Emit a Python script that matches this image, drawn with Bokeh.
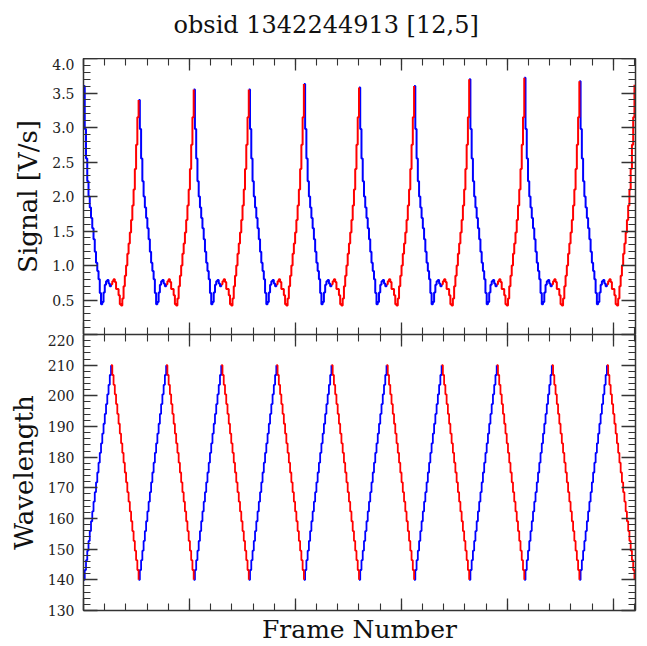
from bokeh.plotting import figure
from bokeh.layouts import column
from bokeh.models import (LinearAxis, SingleIntervalTicker, Range1d,
                          PrintfTickFormatter)
from bokeh.embed import file_html
from bokeh.resources import INLINE

title_text = "obsid 1342244913 [12,5]"
x_label = "Frame Number"
sig_label = "Signal [V/s]"
wl_label = "Wavelength"

half_scan_frames = 130
n_cycles = 10

# wavelength step levels of one up-scan (blue) and one down-scan (red)
wl_up = [140.0, 143.2, 146.4, 149.5, 152.7, 155.9, 159.1, 162.3, 165.5, 168.6, 171.8,
         175.0, 178.2, 181.4, 184.5, 187.7, 190.9, 194.1, 197.3, 200.5, 203.6, 206.8]
wl_down = [210.0, 206.8, 203.6, 200.5, 197.3, 194.1, 190.9, 187.7, 184.5, 181.4, 178.2,
           175.0, 171.8, 168.6, 165.5, 162.3, 159.1, 155.9, 152.7, 149.5, 146.4, 143.2]

# signal read at each step (first up-step is that scan's peak, listed below)
sig_up = [3.45, 2.98, 2.55, 2.22, 2.00, 1.84, 1.69, 1.54, 1.38, 1.20, 1.04,
          0.92, 0.80, 0.60, 0.44, 0.47, 0.61, 0.72, 0.77, 0.79, 0.74, 0.70]
sig_down = [0.73, 0.77, 0.80, 0.76, 0.66, 0.66, 0.57, 0.44, 0.42, 0.52, 0.70,
            0.85, 1.00, 1.17, 1.32, 1.48, 1.66, 1.87, 2.10, 2.40, 2.75, 3.15]
peak_signal = [3.60, 3.40, 3.55, 3.55, 3.63, 3.58, 3.60, 3.70, 3.72, 3.67, 3.62]

x_end = 2605
x_tick = 500
sig_range = (0.0, 4.0)
sig_tick = 0.5
wl_range = (130.0, 220.0)
wl_tick = 10

BLUE = "#0000ff"
RED = "#ff0000"
FONT = "DejaVu Serif"
AX = "#333333"


def step_paths(up, down, peaks, end_low):
    bx, by, rx, ry = [], [], [], []
    n = len(up)
    w = half_scan_frames / n
    for c in range(n_cycles):
        f0 = c * 2 * half_scan_frames
        vals = list(up)
        if peaks is not None:
            vals[0] = peaks[c]
        xs, ys = [], []
        for i, v in enumerate(vals):
            xs += [f0 + i * w, f0 + (i + 1) * w]
            ys += [v, v]
        xs.append(f0 + half_scan_frames)
        ys.append(down[0])
        bx.append(xs); by.append(ys)
        f1 = f0 + half_scan_frames
        xs, ys = [], []
        for i, v in enumerate(down):
            xs += [f1 + i * w, f1 + (i + 1) * w]
            ys += [v, v]
        xs.append(f1 + half_scan_frames)
        ys.append(peaks[c + 1] if peaks is not None else end_low)
        rx.append(xs); ry.append(ys)
    return bx, by, rx, ry


def style_axis(ax, ticker, major, minor, labels):
    ax.ticker = ticker
    ax.major_tick_in = major
    ax.major_tick_out = 0
    ax.minor_tick_in = minor
    ax.minor_tick_out = 0
    ax.axis_line_color = AX
    ax.axis_line_width = 1.5
    ax.major_tick_line_color = AX
    ax.major_tick_line_width = 1.3
    ax.minor_tick_line_color = AX
    ax.minor_tick_line_width = 1.1
    ax.major_label_text_font = FONT
    if labels:
        ax.major_label_text_color = "#222222"
        ax.major_label_text_font_size = "14px"
        ax.major_label_standoff = 9
    else:
        ax.major_label_text_color = None
        ax.major_label_text_font_size = "0px"
        ax.major_label_standoff = 0
        ax.axis_label_standoff = 0


def frame_axes(p, yticker_args, yformat):
    bottom = p.below[0]
    left = p.left[0]
    style_axis(bottom, SingleIntervalTicker(interval=x_tick, num_minor_ticks=5), 12, 7, False)
    style_axis(left, SingleIntervalTicker(**yticker_args), 14, 7, True)
    left.formatter = PrintfTickFormatter(format=yformat)
    top = LinearAxis()
    style_axis(top, SingleIntervalTicker(interval=x_tick, num_minor_ticks=5), 12, 7, False)
    p.add_layout(top, "above")
    right = LinearAxis()
    style_axis(right, SingleIntervalTicker(**yticker_args), 14, 7, False)
    p.add_layout(right, "right")
    left.axis_label_text_font = FONT
    left.axis_label_text_font_size = "26px"
    left.axis_label_text_font_style = "normal"
    left.axis_label_text_color = "#111111"
    left.axis_label_standoff = 6
    return bottom, left


# title strip
pt = figure(width=647, height=58, x_axis_type=None, y_axis_type=None,
            output_backend="svg", toolbar_location=None, min_border=0,
            title=title_text)
pt.title.text_font = FONT
pt.title.text_font_size = "24px"
pt.title.text_font_style = "normal"
pt.title.text_color = "#111111"
pt.title.align = "left"
pt.title.offset = 90
pt.title.vertical_align = "top"
pt.title.standoff = 20
pt.outline_line_color = None
pt.grid.visible = False

xr = Range1d(0, x_end)

p1 = figure(width=647, height=276, x_range=xr, y_range=Range1d(*sig_range),
            output_backend="svg", toolbar_location=None,
            min_border_left=83, min_border_right=12, min_border_top=0,
            min_border_bottom=0)
p1.outline_line_color = None
p1.grid.visible = False
b1, l1 = frame_axes(p1, dict(interval=sig_tick, num_minor_ticks=5), "%.1f")
l1.axis_label = sig_label
l1.major_label_overrides = {0: ""}

bx, by, rx, ry = step_paths(sig_up, sig_down, peak_signal, None)
p1.multi_line(bx, by, line_color=BLUE, line_width=2)
p1.multi_line(rx, ry, line_color=RED, line_width=2)

p2 = figure(width=647, height=312, x_range=xr, y_range=Range1d(*wl_range),
            output_backend="svg", toolbar_location=None,
            min_border_left=83, min_border_right=12, min_border_top=0,
            min_border_bottom=34)
p2.outline_line_color = None
p2.grid.visible = False
b2, l2 = frame_axes(p2, dict(interval=wl_tick, num_minor_ticks=5), "%d")
l2.axis_label = wl_label
b2.axis_label = x_label
b2.axis_label_text_font = FONT
b2.axis_label_text_font_size = "25px"
b2.axis_label_text_font_style = "normal"
b2.axis_label_text_color = "#111111"
b2.axis_label_standoff = 4

wbx, wby, wrx, wry = step_paths(wl_up, wl_down, None, wl_up[0])
p2.multi_line(wbx, wby, line_color=BLUE, line_width=1.8)
p2.multi_line(wrx, wry, line_color=RED, line_width=1.8)

layout = column(pt, p1, p2, spacing=0)
open("out.html", "w").write(file_html(layout, INLINE))
